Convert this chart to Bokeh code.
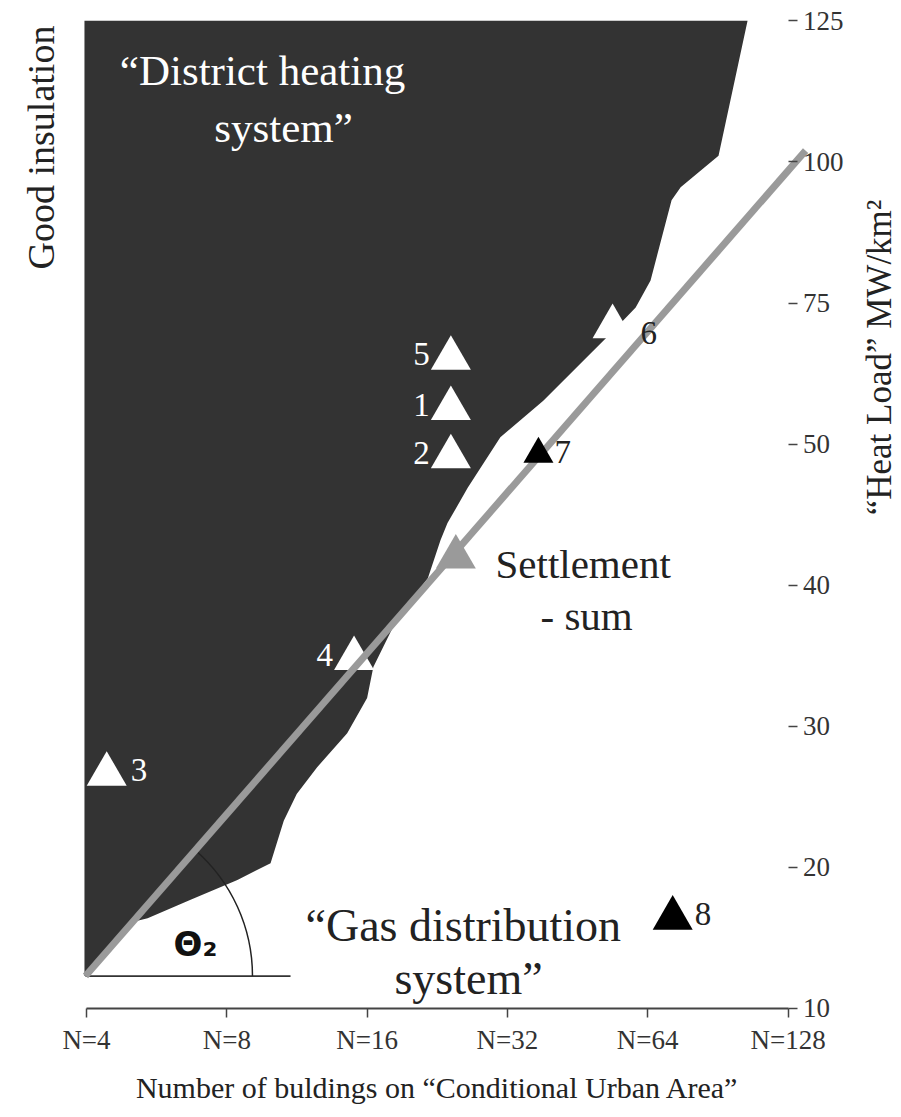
import numpy as np
from bokeh.plotting import figure
from bokeh.models import Range1d, FixedTicker, Label, ColumnDataSource
from bokeh.core.properties import value
from bokeh.embed import file_html
from bokeh.resources import INLINE

# ---------------- data ----------------
x_tick_N = [4, 8, 16, 32, 64, 128]
x_tick_labels = ["N=4", "N=8", "N=16", "N=32", "N=64", "N=128"]
y_tick_values = [10, 20, 30, 40, 50, 75, 100, 125]
y_tick_labels = ["10", "20", "30", "40", "50", "75", "100", "125"]

site_ids = ["1", "2", "3", "4", "5", "6", "7", "8"]
site_N = [24.2, 24.2, 4.42, 15.0, 24.2, 53.8, 37.3, 72.4]
site_load = [56.3, 49.1, 26.6, 34.8, 65.2, 70.8, 49.3, 16.4]

settlement_N = [24.8]
settlement_load = [42.0]

trend_N = [3.98, 139.6]
trend_load = [12.3, 102.0]
angle_base_N_end = 10.96

boundary_N = [3.96, 104.8, 90.8, 75.3, 72.0, 64.9, 60.3, 54.0, 38.2, 30.9, 26.3,
              23.8, 23.0, 21.6, 18.6, 16.5, 16.0, 14.5, 12.5, 11.3, 10.6, 9.93,
              8.43, 6.69, 5.41, 5.12, 3.98, 3.96]
boundary_load = [125, 125, 101.1, 95.5, 93.2, 79.0, 74.2, 70.1, 57.7, 51.2, 46.9,
                 44.4, 43.2, 40.5, 37.7, 34.2, 32.0, 29.5, 27.1, 25.2, 23.3, 20.3,
                 19.1, 17.7, 16.4, 16.2, 12.3, 12.3]

# ordinal (equally spaced) heat-load scale
y_idx = np.arange(len(y_tick_values))


def to_pos(v):
    return np.interp(v, y_tick_values, y_idx)


SERIF = value("Liberation Serif")
DARK = "#333333"
GRAY = "#9a9a9a"
W = 900
H = 1112

# the frame covers the whole canvas; both axes are pinned inside it
p = figure(width=W, height=H, x_axis_type="log",
           x_range=Range1d(2.6155, 223.1), y_range=Range1d(-0.7371, 7.1439),
           y_axis_location="right", output_backend="svg", toolbar_location=None,
           min_border=0, background_fill_color="white", border_fill_color="white")
p.outline_line_color = None
p.grid.visible = False

# x axis (pinned at heat load 10)
xa = p.xaxis[0]
xa.fixed_location = 0
xa.ticker = FixedTicker(ticks=x_tick_N)
xa.major_label_overrides = {float(n): lab for n, lab in zip(x_tick_N, x_tick_labels)}
xa.bounds = (4, 128)
xa.axis_line_color = "#444444"
xa.axis_line_width = 2
xa.major_tick_line_color = "#444444"
xa.major_tick_line_width = 1.5
xa.major_tick_in = 0
xa.major_tick_out = 9
xa.minor_tick_line_color = None
xa.major_label_text_font = "Liberation Serif"
xa.major_label_text_font_size = "27px"
xa.major_label_text_color = "#333333"
xa.major_label_standoff = 8
xa.axis_label = "Number of buldings on \u201cConditional Urban Area\u201d"
xa.axis_label_text_font = "Liberation Serif"
xa.axis_label_text_font_size = "30px"
xa.axis_label_text_font_style = "normal"
xa.axis_label_text_color = "#222222"
xa.axis_label_standoff = 12

# y axis (right side, pinned at N=128)
ya = p.yaxis[0]
ya.fixed_location = 128
ya.ticker = FixedTicker(ticks=list(y_idx))
ya.major_label_overrides = {int(i): lab for i, lab in zip(y_idx, y_tick_labels)}
ya.axis_line_color = None
ya.major_tick_line_color = "#444444"
ya.major_tick_line_width = 1.5
ya.major_tick_in = 0
ya.major_tick_out = 9
ya.minor_tick_line_color = None
ya.major_label_text_font = "Liberation Serif"
ya.major_label_text_font_size = "27px"
ya.major_label_text_color = "#333333"
ya.major_label_standoff = 6

# district heating region
p.patch(boundary_N, to_pos(boundary_load), fill_color=DARK, line_color=None)

# angle marker
base_y = float(to_pos(trend_load[0]))
p.segment(x0=[trend_N[0]], y0=[base_y], x1=[angle_base_N_end], y1=[base_y],
          line_color="#333333", line_width=1.8)
p.arc(x=[trend_N[0]], y=[base_y], radius=167, radius_units="screen",
      start_angle=0, end_angle=0.855, line_color="#222222", line_width=1.5)

# white sites
white_idx = [0, 1, 2, 3, 4, 5]
white = ColumnDataSource(dict(N=[site_N[i] for i in white_idx],
                              pos=[float(to_pos(site_load[i])) for i in white_idx]))
p.scatter("N", "pos", source=white, marker="triangle", size=40,
          fill_color="white", line_color=None)

# trend line
p.line(trend_N, to_pos(trend_load), line_width=7, line_color=GRAY)

# settlement sum
p.scatter(settlement_N, to_pos(settlement_load), marker="triangle", size=40,
          fill_color=GRAY, line_color=None)

# black sites
p.scatter([site_N[6]], [float(to_pos(site_load[6]))], marker="triangle", size=30,
          fill_color="black", line_color=None)
p.scatter([site_N[7]], [float(to_pos(site_load[7]))], marker="triangle", size=40,
          fill_color="black", line_color=None)

# site labels
left_idx = [0, 1, 3, 4]
p.text([site_N[i] for i in left_idx], [float(to_pos(site_load[i])) for i in left_idx],
       text=[site_ids[i] for i in left_idx], x_offset=-21, y_offset=-4,
       text_align="right", text_baseline="middle", text_font=SERIF,
       text_font_size="33px", text_color="white")
p.text([site_N[2]], [float(to_pos(site_load[2]))], text=[site_ids[2]],
       x_offset=24, y_offset=-4, text_align="left", text_baseline="middle",
       text_font=SERIF, text_font_size="33px", text_color="white")
right_idx = [5, 6, 7]
p.text([site_N[i] for i in right_idx], [float(to_pos(site_load[i])) for i in right_idx],
       text=[site_ids[i] for i in right_idx], x_offset=[28, 16, 22], y_offset=[6, -2, -4],
       text_align="left", text_baseline="middle", text_font=SERIF,
       text_font_size="33px", text_color="#222222")


# annotations (screen units, measured from the canvas bottom-left)
def lab(text, x, y, size, color, align="left", baseline="alphabetic", angle=0,
        font="Liberation Serif", style="normal"):
    p.add_layout(Label(x=x, y=y, x_units="screen", y_units="screen", text=text,
                       text_font=font, text_font_size=size, text_color=color,
                       text_align=align, text_baseline=baseline, angle=angle,
                       text_font_style=style))


lab("\u201cDistrict heating", 262, 1042, "43px", "white", align="center")
lab("system\u201d", 283, 985, "43px", "white", align="center")
lab("Settlement", 495, 549, "41px", "#222222")
lab("- sum", 540, 497, "41px", "#222222")
lab("\u201cGas distribution", 305, 187, "46px", "#222222")
lab("system\u201d", 468, 134, "46px", "#222222", align="center")
lab("\u0398\u2082", 195, 169, "34px", "#111111", align="center", baseline="middle",
    font="DejaVu Sans", style="bold")
lab("Good insulation", 40, 965, "38px", "#222222", align="center",
    baseline="middle", angle=np.pi / 2)
lab("\u201cHeat Load\u201d MW/km\u00b2", 879, 755, "35px", "#222222", align="center",
    baseline="middle", angle=np.pi / 2)

open("out.html", "w").write(file_html(p, INLINE))
